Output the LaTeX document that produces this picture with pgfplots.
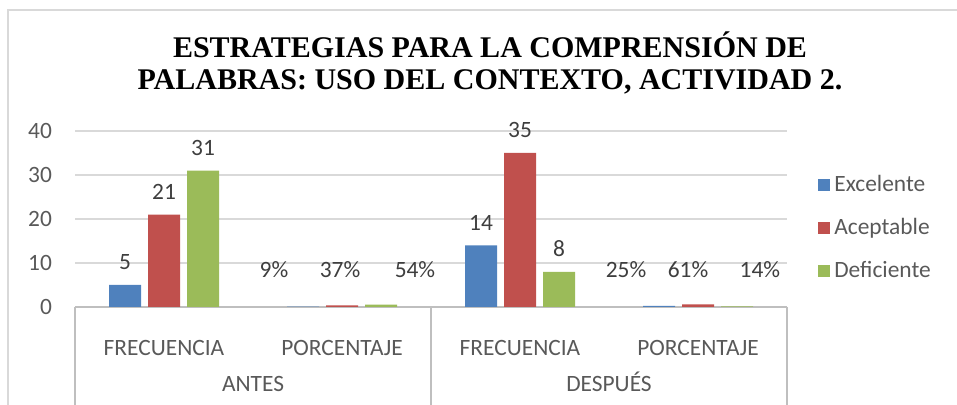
\documentclass[border=0pt]{standalone}
\usepackage{fontspec}
\setmainfont{Carlito}
\newfontfamily\titlefont{Liberation Serif}
\usepackage{pgfplots}
\pgfplotsset{compat=1.18}

\definecolor{cblue}{HTML}{4F81BD}
\definecolor{cred}{HTML}{C0504D}
\definecolor{cgreen}{HTML}{9BBB59}
\definecolor{txt}{HTML}{595959}
\definecolor{gridc}{HTML}{D9D9D9}
\definecolor{axc}{HTML}{BFBFBF}

\newcommand{\lbl}{\fontsize{11.7pt}{14pt}\selectfont}

\begin{document}
% 1 px of the reference = 0.5pt
\begin{tikzpicture}
  \useasboundingbox (0pt,0pt) rectangle (478.5pt,202.5pt);
  \clip (0pt,0pt) rectangle (478.5pt,202.5pt);
  % chart frame
  \draw[gridc, line width=1.2pt] (4pt,197.5pt) rectangle (490pt,-10pt);

  % title
  \node[anchor=base, font=\titlefont\bfseries\fontsize{15pt}{17pt}\selectfont] at (245pt,173.5pt)
    {ESTRATEGIAS PARA LA COMPRENSIÓN DE};
  \node[anchor=base, font=\titlefont\bfseries\fontsize{15pt}{17pt}\selectfont] at (245pt,157.5pt)
    {PALABRAS: USO DEL CONTEXTO, ACTIVIDAD 2.};

  \begin{axis}[
    at={(37.5pt,49pt)}, anchor=south west,
    scale only axis,
    width=356pt, height=88pt,
    ybar=3.5pt, bar width=16pt,
    xmin=-0.5, xmax=3.5,
    ymin=0, ymax=40,
    xtick={0,1,2,3},
    xticklabels={FRECUENCIA,PORCENTAJE,FRECUENCIA,PORCENTAJE},
    ytick={0,10,20,30,40},
    axis lines*=left,
    axis line style={-},
    y axis line style={draw=none},
    x axis line style={draw=axc, line width=0.7pt},
    major tick style={draw=none},
    ymajorgrids,
    grid style={gridc, line width=0.7pt},
    tick label style={font=\lbl, text=txt},
    /pgf/number format/assume math mode=true,
    yticklabel style={xshift=-8pt},
    xticklabel style={anchor=base, yshift=-20pt},
    nodes near coords,
    point meta=explicit symbolic,
    every node near coord/.append style={font=\lbl, text=txt!70!black, yshift=4pt},
    legend style={at={(1.035,0.449)}, anchor=west, draw=none, fill=none,
      font=\lbl, text=txt, row sep=8pt},
    legend cell align=left,
    legend image code/.code={\fill[#1] (0pt,-3pt) rectangle (6pt,3pt);},
    clip=false,
  ]
    \addplot[fill=cblue, draw=none] coordinates {
      (0,5) [5] (1,0.09) [] (2,14) [14] (3,0.25) []
    };
    \addlegendentry{Excelente}
    \addplot[fill=cred, draw=none] coordinates {
      (0,21) [21] (1,0.37) [] (2,35) [35] (3,0.61) []
    };
    \addlegendentry{Aceptable}
    \addplot[fill=cgreen, draw=none] coordinates {
      (0,31) [31] (1,0.54) [] (2,8) [8] (3,0.14) []
    };
    \addlegendentry{Deficiente}

    % percentage labels (placed as in the original)
    \node[font=\lbl, text=txt!70!black] at (axis cs:0.618,8.4) {9\%};
    \node[font=\lbl, text=txt!70!black] at (axis cs:0.989,8.4) {37\%};
    \node[font=\lbl, text=txt!70!black] at (axis cs:1.41,8.4) {54\%};
    \node[font=\lbl, text=txt!70!black] at (axis cs:2.596,8.4) {25\%};
    \node[font=\lbl, text=txt!70!black] at (axis cs:2.944,8.4) {61\%};
    \node[font=\lbl, text=txt!70!black] at (axis cs:3.348,8.4) {14\%};

    % group separators and group labels
    \draw[axc, line width=0.7pt] (axis cs:-0.5,0) -- ([yshift=-60pt]axis cs:-0.5,0);
    \draw[axc, line width=0.7pt] (axis cs:1.5,0) -- ([yshift=-60pt]axis cs:1.5,0);
    \draw[axc, line width=0.7pt] (axis cs:3.5,0) -- ([yshift=-60pt]axis cs:3.5,0);
    \node[anchor=base, font=\lbl, text=txt] at ([yshift=-42.3pt]axis cs:0.5,0) {ANTES};
    \node[anchor=base, font=\lbl, text=txt] at ([yshift=-42.3pt]axis cs:2.5,0) {DESPUÉS};
  \end{axis}
\end{tikzpicture}
\end{document}
